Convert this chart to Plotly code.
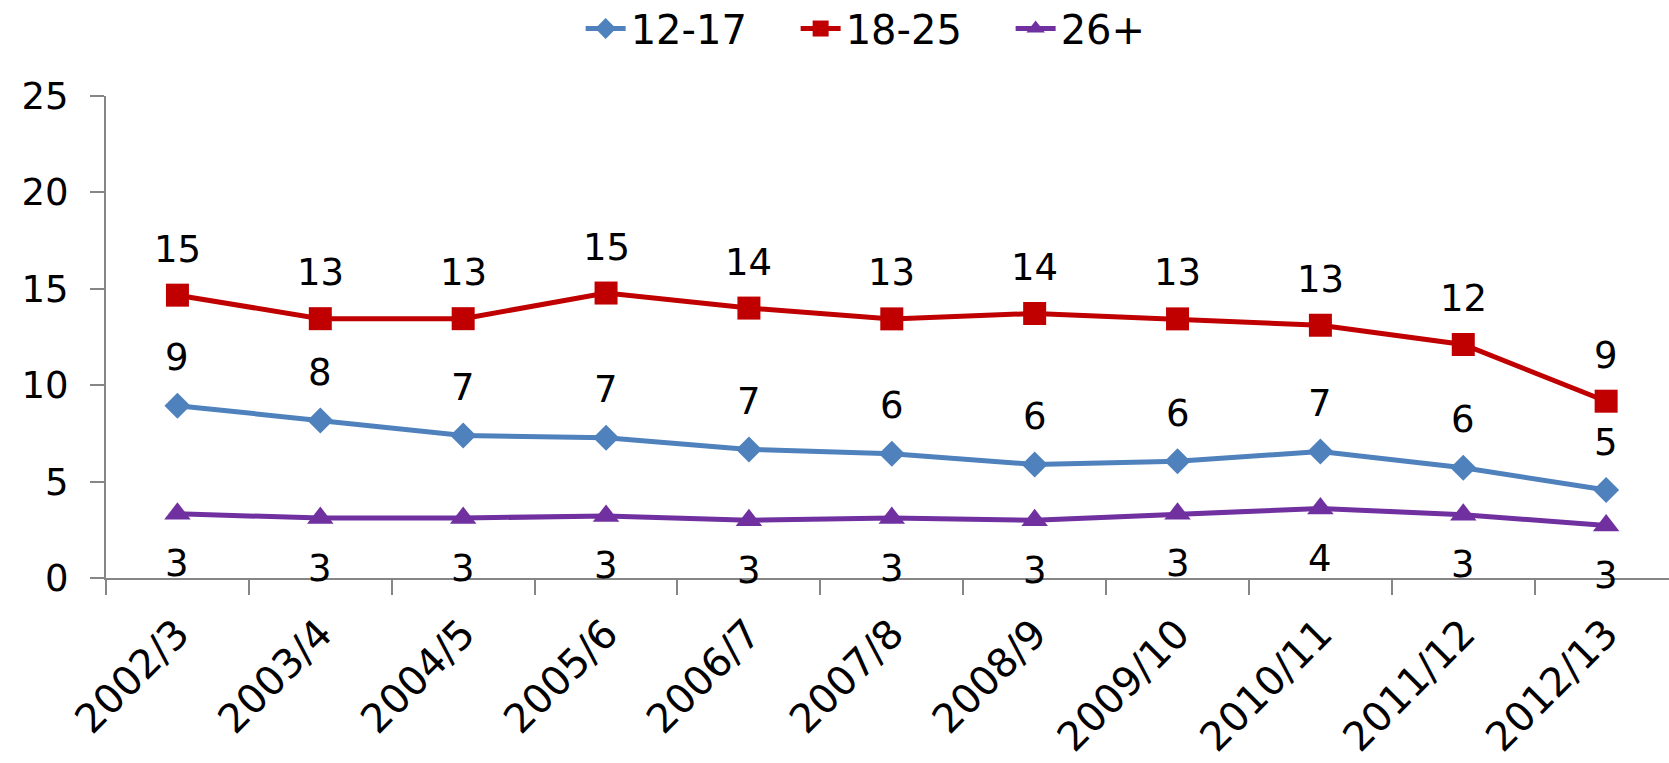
import plotly.graph_objects as go

# Survey years (category axis)
years = ["2002/3", "2003/4", "2004/5", "2005/6", "2006/7", "2007/8",
         "2008/9", "2009/10", "2010/11", "2011/12", "2012/13"]

# Percentages by age group
age_12_17 = [8.94, 8.17, 7.39, 7.28, 6.67, 6.44, 5.89, 6.06, 6.56, 5.72, 4.56]
age_18_25 = [14.67, 13.45, 13.45, 14.78, 14.0, 13.44, 13.72, 13.44, 13.11, 12.11, 9.17]
age_26_plus = [3.33, 3.11, 3.11, 3.22, 3.0, 3.11, 3.0, 3.33, 3.61, 3.28, 2.72]

y_ticks = [0, 5, 10, 15, 20, 25]

FONT = "DejaVu Sans"

series = [
    ("12-17", age_12_17, "#4F81BD", "diamond", 20, 48),
    ("18-25", age_18_25, "#C00000", "square", 23, 46),
    ("26+", age_26_plus, "#7030A0", "triangle-up", 23, -50),
]

fig = go.Figure()
annotations = []
for name, vals, color, symbol, msize, shift in series:
    fig.add_trace(go.Scatter(
        x=years, y=vals, name=name, mode="lines+markers",
        line=dict(color=color, width=5),
        marker=dict(symbol=symbol, size=msize, color=color),
    ))
    # rounded value labels above (or below) each point
    for xv, yv in zip(years, vals):
        annotations.append(dict(
            x=xv, y=yv, xref="x", yref="y", text=str(int(round(yv))),
            showarrow=False, yshift=shift, xanchor="center", yanchor="middle",
            font=dict(family=FONT, size=37, color="#000000"),
        ))

fig.update_layout(
    width=1669, height=763,
    margin=dict(l=106, r=0, t=96, b=185, autoexpand=False),
    paper_bgcolor="white", plot_bgcolor="white",
    font=dict(family=FONT, size=37, color="#000000"),
    showlegend=True,
    legend=dict(
        orientation="h", x=0.51, xanchor="center", y=1.14, yanchor="middle",
        font=dict(family=FONT, size=40, color="#000000"),
        itemwidth=40, entrywidth=160, tracegroupgap=0,
    ),
    annotations=annotations,
)

fig.update_xaxes(
    type="category", range=[-0.5, 10.44],
    showline=True, linecolor="#868686", linewidth=2,
    ticks="outside", ticklen=15, tickcolor="#868686", tickwidth=2,
    tickson="boundaries", tickangle=-45, ticklabelstandoff=14,
    tickfont=dict(family=FONT, size=40, color="#000000"),
    showgrid=False, zeroline=False,
)
fig.update_yaxes(
    range=[0, 25], tickvals=y_ticks,
    showline=True, linecolor="#868686", linewidth=2,
    ticks="outside", ticklen=14, tickcolor="#868686", tickwidth=2,
    ticklabelstandoff=14,
    tickfont=dict(family=FONT, size=37, color="#000000"),
    showgrid=False, zeroline=False,
)

fig.write_html("out.html")
